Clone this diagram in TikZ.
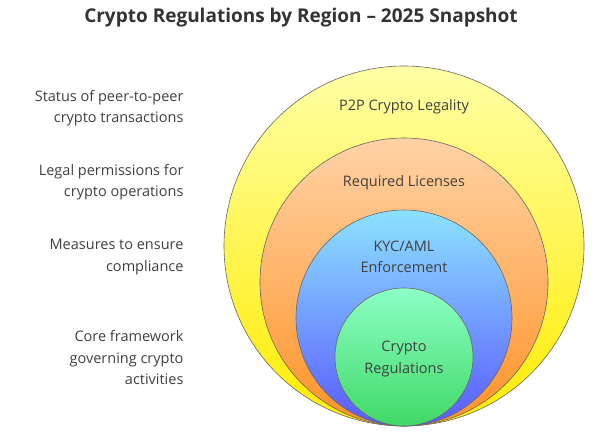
\documentclass[tikz,border=0pt]{standalone}
\usepackage{fontspec}
\setmainfont{Open Sans}
\begin{document}
\begin{tikzpicture}[x=1pt,y=-1pt,
  lbl/.style={font=\fontsize{14.5}{21.5}\selectfont,text=black!75,align=right,anchor=east},
  inl/.style={font=\fontsize{14.5}{21.5}\selectfont,text=black!75,align=center}]
\useasboundingbox (0,0) rectangle (602,432);
\node[font=\fontsize{19}{22}\selectfont\bfseries,text=black!80] (title) at (301,18) {Crypto Regulations by Region -- 2025 Snapshot};
\shade[top color=yellow!35!white,bottom color=yellow!85!orange,draw=black!60,line width=0.6pt] (404,246) circle (180);
\shade[top color=orange!35!white,bottom color=orange!85!white,draw=black!60,line width=0.6pt] (404,282) circle (144);
\shade[top color=blue!25!cyan!45!white,bottom color=blue!65!white,draw=black!60,line width=0.6pt] (404,318) circle (108);
\shade[top color=green!50!cyan!45!white,bottom color=green!60!teal!75!white,draw=black!60,line width=0.6pt] (404,357) circle (69);
\node[inl] (p2p) at (404,107) {P2P Crypto Legality};
\node[inl] (lic) at (404,183) {Required Licenses};
\node[inl] (kyc) at (404,257) {KYC/AML\\Enforcement};
\node[inl] (reg) at (404,359) {Crypto\\Regulations};
\node[lbl] (l1) at (187,108) {Status of peer-to-peer\\crypto transactions};
\node[lbl] (l2) at (187,182) {Legal permissions for\\crypto operations};
\node[lbl] (l3) at (187,257) {Measures to ensure\\compliance};
\node[lbl] (l4) at (187,358) {Core framework\\governing crypto\\activities};
\end{tikzpicture}
\end{document}
